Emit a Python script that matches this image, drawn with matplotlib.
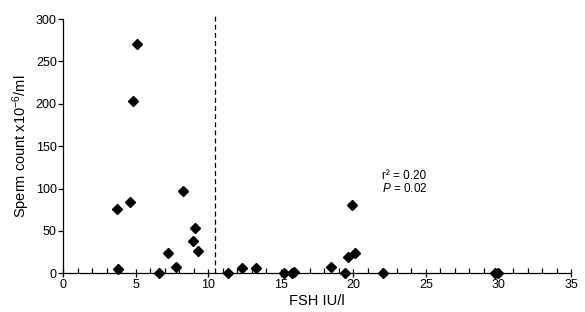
import matplotlib
matplotlib.use("Agg")
import matplotlib.pyplot as plt
from matplotlib.ticker import MultipleLocator

plt.rcParams['font.family'] = ['Liberation Sans', 'DejaVu Sans']
plt.rcParams['mathtext.fontset'] = 'custom'
plt.rcParams['mathtext.rm'] = 'Liberation Sans'
plt.rcParams['mathtext.it'] = 'Liberation Sans:italic'
plt.rcParams['mathtext.default'] = 'rm'

fsh = [3.75, 3.8, 5.1, 4.85, 4.6, 6.6, 7.25, 7.8, 8.3, 8.95, 9.1, 9.3,
       11.35, 12.3, 13.3, 15.2, 15.75, 15.9, 18.45, 19.4, 19.65, 20.1,
       19.9, 22.05, 29.75, 29.95]
sperm = [76, 5, 271, 203, 84, 0.5, 24, 8, 97, 38, 54, 26,
         0, 6, 6, 0.5, 0.5, 1, 8, 0.5, 19, 24,
         81, 0.5, 0, 0]
cutoff = 10.5
x_ticks = [0, 5, 10, 15, 20, 25, 30, 35]
y_ticks = [0, 50, 100, 150, 200, 250, 300]

fig = plt.figure(figsize=(5.85, 3.12), dpi=100)
ax = fig.add_axes([0.1077, 0.124, 0.8685, 0.815])

ax.plot(fsh, sperm, linestyle='none', marker='D', color='black',
        markersize=5.5, clip_on=False, zorder=3)
ax.plot([cutoff, cutoff], [0, 305], color='black', linestyle=(0, (4, 2.5)),
        linewidth=0.9, clip_on=False)

ax.set_xlim(0, 35)
ax.set_ylim(0, 300)
ax.set_xticks(x_ticks)
ax.set_yticks(y_ticks)
ax.xaxis.set_minor_locator(MultipleLocator(1))
ax.tick_params(axis='x', which='major', direction='inout', length=6, width=0.9,
               labelsize=9, pad=1)
ax.tick_params(axis='x', which='minor', direction='in', length=3.5, width=0.9)
ax.tick_params(axis='y', which='major', direction='out', length=3.5, width=0.9,
               labelsize=9, pad=1)
for s in ['top', 'right']:
    ax.spines[s].set_visible(False)
for s in ['left', 'bottom']:
    ax.spines[s].set_linewidth(0.9)

ax.set_xlabel('FSH IU/l', fontsize=10.5, labelpad=2)
ax.set_ylabel('Sperm count x10$^{\\mathregular{-6}}$/ml', fontsize=10.5, labelpad=3)

ax.text(22.0, 115, 'r\u00b2 = 0.20', fontsize=8.5, va='center', ha='left')
ax.text(22.0, 99.5, '$\\mathit{P}$ = 0.02', fontsize=8.5, va='center', ha='left')

fig.savefig('out.png', dpi=100)
